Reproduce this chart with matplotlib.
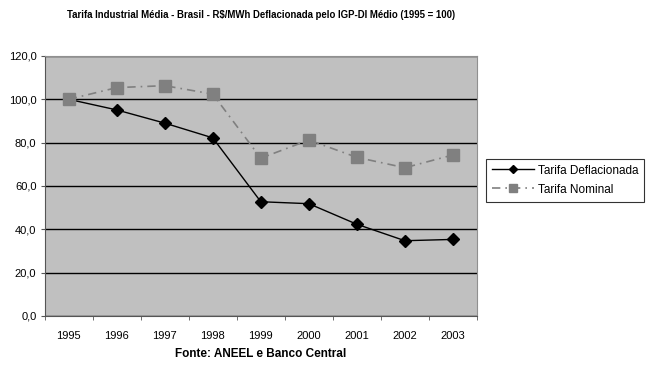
import numpy as np
import matplotlib.pyplot as plt
from matplotlib.ticker import FuncFormatter, FixedLocator

plt.rcParams['font.family'] = ['Liberation Sans', 'DejaVu Sans']

anos = ['1995', '1996', '1997', '1998', '1999', '2000', '2001', '2002', '2003']
tarifa_deflacionada = [100.0, 95.1, 89.0, 82.2, 52.7, 51.8, 42.3, 34.7, 35.3]
tarifa_nominal = [100.0, 105.4, 106.3, 102.4, 72.8, 81.2, 73.2, 68.4, 74.3]

fig = plt.figure(figsize=(6.48, 3.66), dpi=100)
ax = fig.add_axes([0.069, 0.137, 0.667, 0.71])
ax.set_facecolor('#c0c0c0')

x = np.arange(len(anos))
ax.plot(x, tarifa_deflacionada, color='black', lw=1.0, marker='D',
        markersize=6, label='Tarifa Deflacionada', zorder=3)
ax.plot(x, tarifa_nominal, color='#808080', lw=1.2, linestyle=(0, (5, 3, 1, 3)),
        marker='s', markersize=8, label='Tarifa Nominal', zorder=3)

ax.set_xlim(-0.5, len(anos) - 0.5)
ax.set_ylim(0, 120)
ax.set_yticks(np.arange(0, 121, 20))
ax.yaxis.set_major_formatter(FuncFormatter(lambda v, p: '{:.1f}'.format(v).replace('.', ',')))
ax.set_xticks(x)
ax.set_xticklabels(anos)
ax.xaxis.set_minor_locator(FixedLocator(np.arange(-0.5, len(anos), 1)))
ax.tick_params(axis='x', which='major', length=0, labelsize=8, pad=11)
ax.tick_params(axis='x', which='minor', length=3, direction='out', color='#555555')
ax.tick_params(axis='y', length=3, direction='out', labelsize=8, color='#555555', pad=3)

ax.grid(axis='y', color='black', lw=1.0)
ax.set_axisbelow(True)
for side in ['top', 'right']:
    ax.spines[side].set_color('#909090')
for side in ['left', 'bottom']:
    ax.spines[side].set_color('#555555')

ax.set_xlabel('Fonte: ANEEL e Banco Central', fontsize=8.5, fontweight='bold', labelpad=5)
fig.text(0.403, 0.96, 'Tarifa Industrial Média - Brasil - R$/MWh Deflacionada pelo IGP-DI Médio (1995 = 100)',
         ha='center', va='center', fontsize=6.9, fontweight='bold')

leg = fig.legend(loc='center left', bbox_to_anchor=(0.75, 0.508), fontsize=8.5,
                 frameon=True, fancybox=False, edgecolor='black', handlelength=3.6,
                 borderpad=0.5, labelspacing=0.6, handletextpad=0.3, markerscale=0.65,
                 borderaxespad=0)
leg.get_frame().set_linewidth(0.8)

fig.savefig('out.png', dpi=100)
